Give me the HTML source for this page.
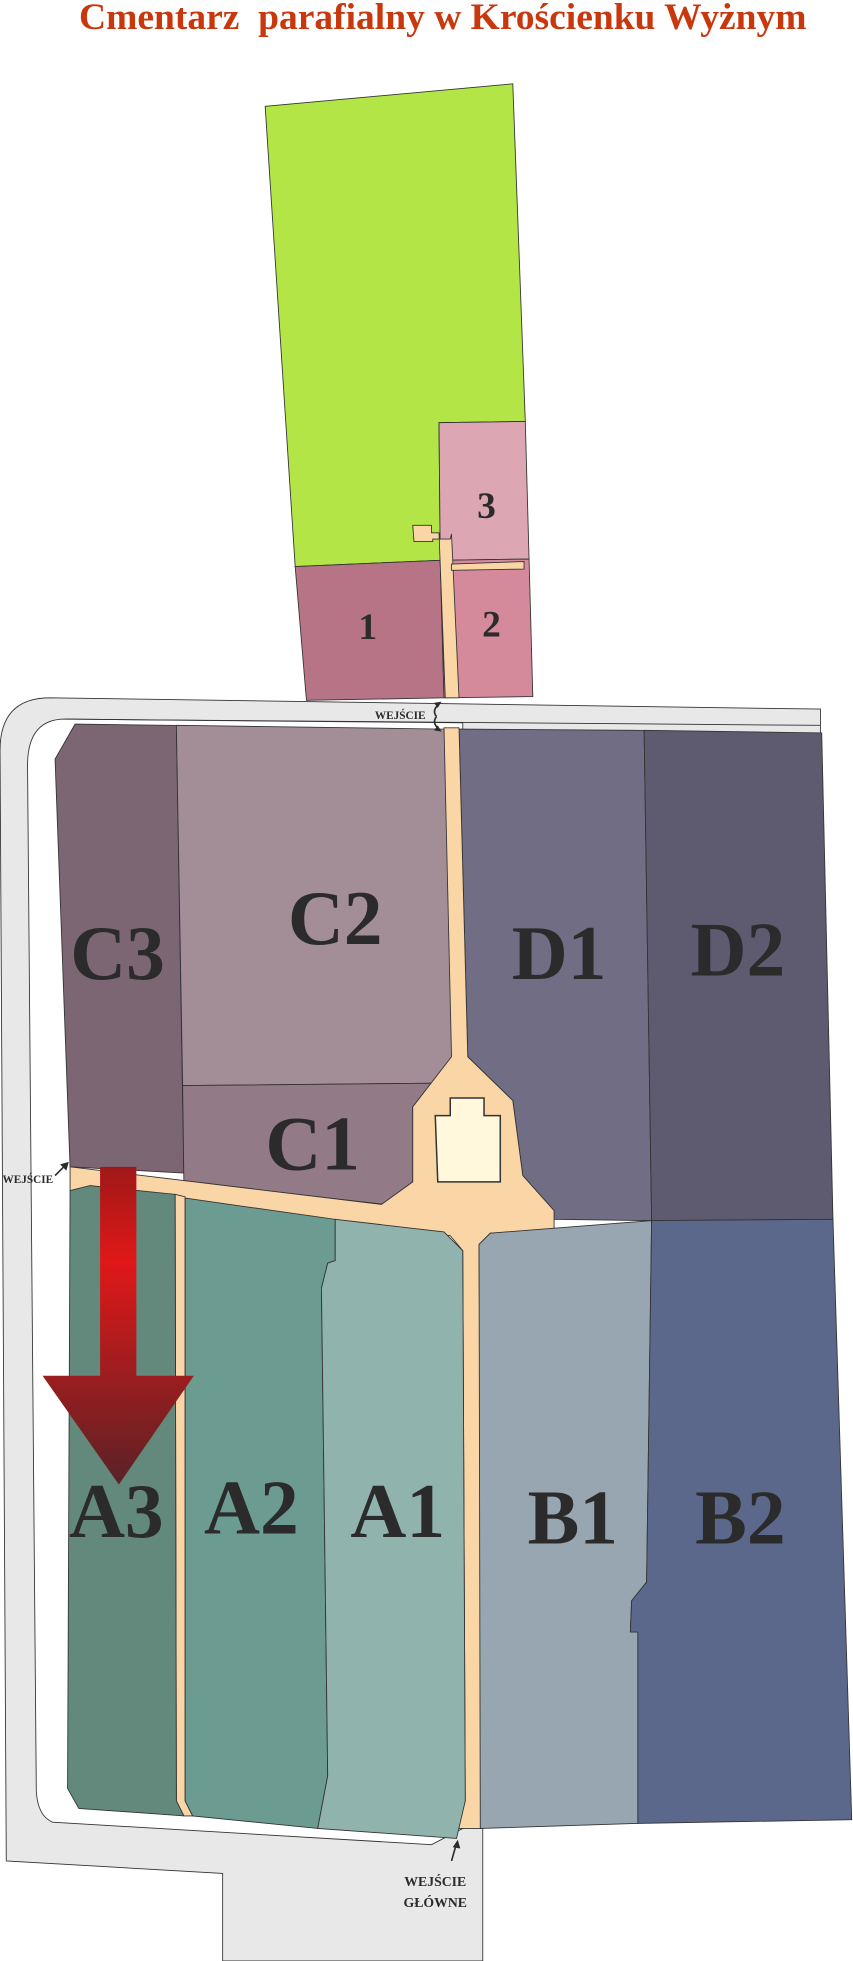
<!DOCTYPE html>
<html><head><meta charset="utf-8"><style>
html,body{margin:0;padding:0;background:#fff}
svg{display:block}
text{font-family:"Liberation Serif",serif;font-weight:bold}
</style></head><body>
<svg width="853" height="1961" viewBox="0 0 682 1568" xmlns="http://www.w3.org/2000/svg">
<defs>
<linearGradient id="ag" x1="0" y1="0" x2="0" y2="1">
<stop offset="0" stop-color="#a01818"/>
<stop offset="0.3" stop-color="#e01818"/>
<stop offset="1" stop-color="#5a2226"/>
</linearGradient>
</defs>
<text x="354" y="23" text-anchor="middle" font-size="30" fill="#c9380d" xml:space="preserve">Cmentarz  parafialny w Krościenku Wyżnym</text>
<g stroke="#333" stroke-width="0.7">
<path d="M40,558 L656,567 L656,592 L386,592 L386,1568 L178,1568 L178,1498 L5,1488 L0,600 Q0,558 40,558 Z" fill="#e8e8e8"/>
<path d="M52,575 L370,578 L370,1462 L345,1475 L42,1457 Q30,1452 29,1432 L22,612 Q22,575 52,575 Z" fill="#fff"/>
<line x1="52" y1="575" x2="656" y2="580" />
<polygon points="212,85 410,67 420,337 351,338 352,448 236,453" fill="#b3e547"/>
<polygon points="351,338 420,337 423,447 352,448" fill="#dca7b3"/>
<polygon points="236,453 352,448 355,558 245,560" fill="#b67486"/>
<polygon points="352,448 423,447 426,557 355,558" fill="#d58a9b"/>
<polygon points="330,420 345,420 345,426 351,426 356,558 367,558 361,427 360,431 352,431 346,431 346,433 331,433" fill="#fad5a5"/>
<polygon points="361,451 419,449 419,455 361,456" fill="#fad5a5"/>
<polygon points="60,579 141,580 147,938 56,933 44,607" fill="#7c6673"/>
<polygon points="141,580 356,583 362,866 146,868" fill="#a38e98"/>
<polygon points="146,868 362,866 330,885 330,945 308,963 147,945" fill="#937a87"/>
<polygon points="367,583 515,584 521,976 443,975 443,968 418,940 410,880 374,845" fill="#716d84"/>
<polygon points="515,584 657,586 666,975 521,976" fill="#5e5a70"/>
<polygon points="355,582 367,582 374,845 410,880 418,940 443,968 443,984 392,986 383,995 386,1462 365,1462 372,1440 370,1000 360,988 56,952 56,933 305,963 330,945 330,885 361,845" fill="#fad5a5"/>
<polygon points="140,955 148,957 148,1440 154,1452 147,1452 141,1440" fill="#fad5a5"/>
<polygon points="56,952 72,948 140,955 141,1440 147,1452 63,1446 54,1430" fill="#62897b"/>
<polygon points="148,958 268,975 268,1008 262,1010 257,1030 262,1420 254,1462 154,1452 148,1440" fill="#6b9b91"/>
<polygon points="268,975 355,985 370,1000 372,1440 365,1470 254,1462 262,1420 257,1030 262,1010 268,1008" fill="#90b3ad"/>
<polygon points="383,995 392,986 521,976 517,1265 505,1280 504,1305 510,1305 510,1458 384,1462" fill="#98a6b1"/>
<polygon points="521,976 666,975 681,1455 510,1458 510,1305 504,1305 505,1280 517,1265" fill="#5b688c"/>
<polygon points="348,892 360,892 360,878 387,878 387,892 400,892 400,945 350,945" fill="#fff8dc" stroke-width="1.2"/>
</g>
<g fill="#2b2b2b">
<text x="389" y="414" text-anchor="middle" font-size="30">3</text>
<text x="294" y="511" text-anchor="middle" font-size="30">1</text>
<text x="393" y="509" text-anchor="middle" font-size="30">2</text>
<g font-size="62" text-anchor="middle">
<text x="94" y="783">C3</text>
<text x="268" y="755">C2</text>
<text x="447" y="783">D1</text>
<text x="590" y="780">D2</text>
<text x="250" y="935">C1</text>
<text x="93" y="1229">A3</text>
<text x="201" y="1226">A2</text>
<text x="318" y="1229">A1</text>
<text x="458" y="1234">B1</text>
<text x="592" y="1234">B2</text>
</g>
<text x="320" y="575" text-anchor="middle" font-size="9">WEJŚCIE</text>
<text x="2" y="946" font-size="9">WEJŚCIE</text>
<text x="348" y="1508" text-anchor="middle" font-size="11">WEJŚCIE</text>
<text x="348" y="1525" text-anchor="middle" font-size="11">GŁÓWNE</text>
</g>
<g stroke="#2b2b2b" stroke-width="1.3" fill="none">
<path d="M349,573 Q345,568 351,563"/><path d="M349,573 Q345,578 351,583"/>
<path d="M44,940 L53,931"/><path d="M361,1488 L365,1474"/>
</g>
<g fill="#2b2b2b">
<polygon points="353,561 347,562 350,566"/><polygon points="353,585 347,584 350,580"/>
<polygon points="55,929 48,931 53,936"/><polygon points="366,1471 362,1477 368,1478"/>
</g>
<polygon points="80,933 109,933 109,1100 155,1100 95,1187 34,1100 80,1100" fill="url(#ag)"/>
</svg>
</body></html>
